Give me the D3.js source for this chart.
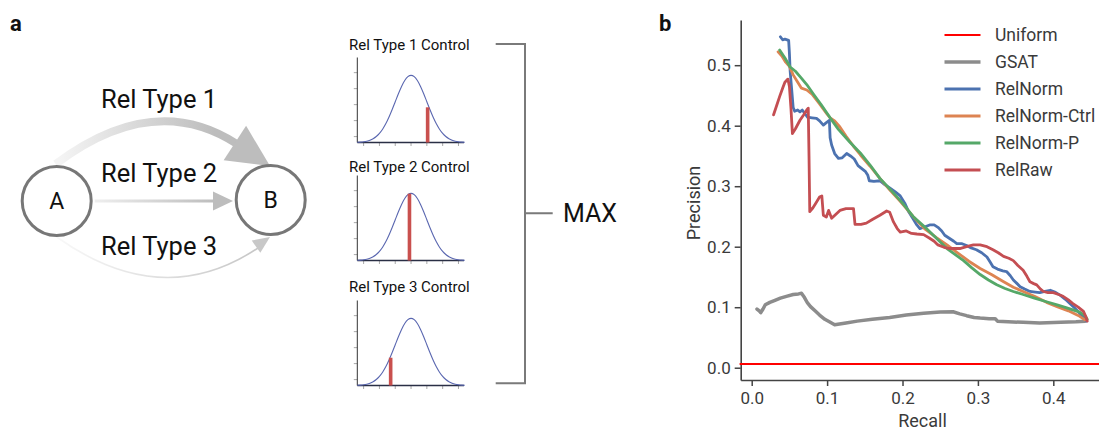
<!DOCTYPE html>
<html>
<head>
<meta charset="utf-8">
<script src="https://cdn.jsdelivr.net/npm/d3@7"></script>
<style>
  html, body { margin: 0; padding: 0; background: #fff; }
  svg { display: block; font-family: Roboto, "Noto Sans", sans-serif; }
</style>
</head>
<body>
<svg id="fig" width="1099" height="430"></svg>
<script>
// ---------- Panel a: relation diagram ----------
const nodes = [
  { id: "A", cx: 56.7, cy: 201 },
  { id: "B", cx: 270.7, cy: 200 }
];
const relLabels = ["Rel Type 1", "Rel Type 2", "Rel Type 3"];

// ---------- Panel a: control distributions ----------
const controlTitles = ["Rel Type 1 Control", "Rel Type 2 Control", "Rel Type 3 Control"];
const densityZ = [-3.4, -3.2, -3.0, -2.8, -2.6, -2.4, -2.2, -2.0, -1.8, -1.6, -1.4, -1.2, -1.0, -0.8, -0.6, -0.4, -0.2, 0,
                  0.2, 0.4, 0.6, 0.8, 1.0, 1.2, 1.4, 1.6, 1.8, 2.0, 2.2, 2.4, 2.6, 2.8, 3.0, 3.2, 3.4];
const densityY = [0.0012, 0.0024, 0.0044, 0.0079, 0.0136, 0.0224, 0.0355, 0.0540, 0.0790, 0.1109, 0.1497, 0.1942, 0.2420, 0.2897, 0.3332, 0.3683, 0.3910, 0.3989,
                  0.3910, 0.3683, 0.3332, 0.2897, 0.2420, 0.1942, 0.1497, 0.1109, 0.0790, 0.0540, 0.0355, 0.0224, 0.0136, 0.0079, 0.0044, 0.0024, 0.0012];
const observedZ = [1.05, -0.1, -1.29];
const observedH = [0.209, 0.397, 0.165];
const miniXTicks = [-3, -2, -1, 0, 1, 2, 3];
const miniYTicks = [0.035, 0.13, 0.225, 0.32, 0.415];

// ---------- Panel b: precision / recall ----------
const xTicks = [0, 0.1, 0.2, 0.3, 0.4];
const yTicks = [0, 0.1, 0.2, 0.3, 0.4, 0.5];
const seriesNames = ["Uniform", "GSAT", "RelNorm", "RelNorm-Ctrl", "RelNorm-P", "RelRaw"];
const seriesColors = ["#ff0000", "#8c8c8c", "#4c72b0", "#dd8452", "#55a868", "#c44e52"];
const seriesWidths = [2, 3.5, 2.8, 2.8, 2.8, 2.8];

const uniform = [[-0.015, 0.006], [0.461, 0.006]];
const gsat = [[0.007,0.097],[0.010,0.094],[0.012,0.091],[0.015,0.097],[0.018,0.104],[0.024,0.108],[0.030,0.111],[0.038,0.115],
  [0.046,0.118],[0.055,0.121],[0.062,0.122],[0.066,0.123],[0.070,0.116],[0.074,0.107],[0.078,0.101],[0.084,0.094],[0.090,0.087],
  [0.097,0.080],[0.103,0.076],[0.110,0.071],[0.125,0.074],[0.140,0.077],[0.160,0.080],[0.183,0.083],[0.205,0.087],[0.228,0.090],
  [0.250,0.092],[0.267,0.0925],[0.276,0.089],[0.285,0.086],[0.295,0.083],[0.303,0.082],[0.315,0.081],[0.323,0.081],[0.326,0.077],
  [0.340,0.076],[0.360,0.075],[0.382,0.074],[0.410,0.075],[0.430,0.076],[0.442,0.077]];
const relNorm = [[0.038,0.547],[0.041,0.542],[0.044,0.543],[0.049,0.541],[0.050,0.52],[0.051,0.49],[0.053,0.46],[0.055,0.43],
  [0.057,0.424],[0.061,0.426],[0.064,0.423],[0.067,0.426],[0.070,0.421],[0.074,0.414],[0.080,0.413],[0.086,0.412],[0.090,0.408],
  [0.095,0.401],[0.099,0.405],[0.103,0.409],[0.104,0.38],[0.106,0.368],[0.110,0.354],[0.115,0.346],[0.120,0.347],[0.126,0.354],
  [0.131,0.350],[0.136,0.345],[0.141,0.334],[0.146,0.329],[0.151,0.324],[0.154,0.318],[0.156,0.309],[0.162,0.308],[0.170,0.309],
  [0.176,0.303],[0.183,0.297],[0.190,0.291],[0.197,0.284],[0.203,0.272],[0.208,0.258],[0.214,0.246],[0.219,0.236],[0.223,0.230],
  [0.230,0.233],[0.236,0.236],[0.242,0.236],[0.247,0.232],[0.252,0.226],[0.256,0.219],[0.262,0.214],[0.268,0.209],[0.272,0.205],
  [0.279,0.205],[0.285,0.202],[0.291,0.198],[0.298,0.195],[0.305,0.190],[0.312,0.183],[0.316,0.175],[0.320,0.167],[0.326,0.163],
  [0.333,0.160],[0.338,0.159],[0.343,0.152],[0.347,0.145],[0.352,0.139],[0.356,0.134],[0.362,0.130],[0.369,0.126],[0.376,0.125],
  [0.382,0.124],[0.389,0.126],[0.396,0.128],[0.402,0.125],[0.409,0.120],[0.416,0.113],[0.422,0.106],[0.428,0.099],[0.435,0.090],
  [0.440,0.083],[0.444,0.077]];
const relNormCtrl = [[0.035,0.522],[0.040,0.515],[0.045,0.505],[0.050,0.498],[0.055,0.484],[0.060,0.474],[0.066,0.462],[0.073,0.459],
  [0.080,0.452],[0.090,0.436],[0.100,0.419],[0.104,0.413],[0.110,0.408],[0.117,0.398],[0.125,0.383],[0.135,0.366],[0.144,0.352],
  [0.157,0.333],[0.170,0.313],[0.183,0.294],[0.197,0.275],[0.214,0.250],[0.230,0.229],[0.245,0.215],[0.259,0.203],[0.273,0.190],
  [0.288,0.176],[0.303,0.164],[0.318,0.154],[0.333,0.143],[0.347,0.133],[0.360,0.126],[0.375,0.118],[0.391,0.108],[0.405,0.101],
  [0.420,0.094],[0.435,0.085],[0.442,0.079]];
const relNormP = [[0.037,0.525],[0.045,0.510],[0.051,0.497],[0.058,0.490],[0.065,0.480],[0.073,0.468],[0.082,0.452],[0.092,0.435],
  [0.104,0.413],[0.115,0.394],[0.130,0.373],[0.144,0.355],[0.157,0.335],[0.170,0.313],[0.185,0.293],[0.200,0.272],[0.214,0.250],
  [0.230,0.232],[0.245,0.214],[0.259,0.197],[0.270,0.187],[0.281,0.177],[0.292,0.165],[0.303,0.154],[0.314,0.145],[0.325,0.137],
  [0.336,0.131],[0.347,0.126],[0.360,0.121],[0.375,0.115],[0.391,0.109],[0.405,0.104],[0.420,0.098],[0.435,0.092],[0.442,0.086],
  [0.445,0.080]];
const relRaw = [[0.029,0.418],[0.033,0.433],[0.037,0.448],[0.041,0.462],[0.044,0.472],[0.048,0.477],[0.050,0.465],[0.052,0.43],
  [0.054,0.387],[0.058,0.395],[0.064,0.409],[0.069,0.418],[0.073,0.426],[0.075,0.429],[0.076,0.35],[0.077,0.258],[0.081,0.264],
  [0.085,0.272],[0.090,0.282],[0.093,0.284],[0.095,0.252],[0.099,0.249],[0.102,0.260],[0.106,0.247],[0.111,0.253],[0.117,0.260],
  [0.125,0.263],[0.135,0.263],[0.137,0.237],[0.145,0.237],[0.152,0.239],[0.160,0.245],[0.170,0.252],[0.179,0.259],[0.183,0.257],
  [0.188,0.241],[0.193,0.230],[0.197,0.224],[0.205,0.226],[0.212,0.222],[0.219,0.221],[0.228,0.220],[0.236,0.214],[0.242,0.209],
  [0.247,0.203],[0.255,0.199],[0.263,0.197],[0.270,0.197],[0.276,0.197],[0.285,0.200],[0.294,0.203],[0.303,0.203],[0.312,0.200],
  [0.320,0.195],[0.327,0.190],[0.334,0.184],[0.341,0.181],[0.347,0.177],[0.353,0.169],[0.360,0.161],[0.365,0.151],[0.369,0.142],
  [0.374,0.139],[0.378,0.137],[0.383,0.130],[0.387,0.126],[0.393,0.124],[0.400,0.124],[0.407,0.121],[0.413,0.118],[0.420,0.112],
  [0.426,0.106],[0.433,0.100],[0.440,0.093],[0.443,0.085],[0.445,0.077]];
const seriesData = [uniform, gsat, relNorm, relNormCtrl, relNormP, relRaw];

const svg = d3.select("#fig");
const defs = svg.append("defs");

// ===== panel letters =====
svg.append("text").attr("x", 10).attr("y", 31).attr("font-size", 22).attr("font-weight", "bold")
  .attr("fill", "#111").text("a");
svg.append("text").attr("x", 659).attr("y", 31).attr("font-size", 22).attr("font-weight", "bold")
  .attr("fill", "#111").text("b");

// ===== relation diagram =====
function gradient(id, x1, x2, c1, c2) {
  const g = defs.append("linearGradient").attr("id", id)
    .attr("gradientUnits", "userSpaceOnUse")
    .attr("x1", x1).attr("x2", x2).attr("y1", 0).attr("y2", 0);
  g.append("stop").attr("offset", 0).attr("stop-color", c1);
  g.append("stop").attr("offset", 1).attr("stop-color", c2);
}
gradient("g1", 60, 215, "#f4f4f4", "#bdbdbd");
gradient("g2", 95, 215, "#eeeeee", "#bdbdbd");
gradient("g3", 60, 250, "#f8f8f8", "#c8c8c8");

function arrowHead(tip, angle, len, half) {
  const bx = tip[0] - len * Math.cos(angle), by = tip[1] - len * Math.sin(angle);
  const nx = -Math.sin(angle) * half, ny = Math.cos(angle) * half;
  return [[tip[0], tip[1]], [bx + nx, by + ny], [bx - nx, by - ny]];
}
const diag = svg.append("g");
const A = nodes[0], B = nodes[1];

const edges = [
  { p0: [A.cx - 1, A.cy - 37], c: [154, 90], p2: [237, 144], tip: [270, 166], w: 8, len: 42, half: 20.5, grad: "g1", head: "#bdbdbd" },
  { p0: [A.cx + 38, A.cy], c: [150, A.cy], p2: [215, A.cy], tip: [233, A.cy], w: 3, len: 20, half: 9.5, grad: "g2", head: "#bdbdbd" },
  { p0: [A.cx, A.cy + 36], c: [162, 312], p2: [258, 248], tip: [270, 237], w: 1.6, len: 17, half: 7.5, grad: "g3", head: "#c8c8c8" }
];
edges.forEach(e => {
  const p = d3.path();
  p.moveTo(e.p0[0], e.p0[1]);
  p.quadraticCurveTo(e.c[0], e.c[1], e.p2[0], e.p2[1]);
  diag.append("path").attr("d", p.toString()).attr("fill", "none")
    .attr("stroke", `url(#${e.grad})`).attr("stroke-width", e.w);
  const ang = Math.atan2(e.tip[1] - e.c[1], e.tip[0] - e.c[0]);
  const pts = arrowHead(e.tip, ang, e.len, e.half);
  diag.append("path").attr("d", d3.line()(pts) + "Z").attr("fill", e.head);
});

nodes.forEach(n => {
  diag.append("circle").attr("cx", n.cx).attr("cy", n.cy).attr("r", 34.5)
    .attr("fill", "#fff").attr("stroke", "#777").attr("stroke-width", 3);
  diag.append("text").attr("x", n.cx).attr("y", n.cy + 8).attr("text-anchor", "middle")
    .attr("font-size", 23).attr("fill", "#111").text(n.id);
});
const relLabelY = [108, 182, 255];
relLabels.forEach((t, i) => {
  diag.append("text").attr("x", 159).attr("y", relLabelY[i]).attr("text-anchor", "middle")
    .attr("font-size", 25.5).attr("fill", "#111").text(t);
});

// ===== control distributions =====
const miniX = d3.scaleLinear().domain([-3.4, 3.35]).range([357.3, 464]);
const miniBase = [142.5, 260.5, 385.5];
const miniTitleY = [50, 171.5, 291.5];
const densityPts = densityZ.map((z, i) => [z, densityY[i]]);

controlTitles.forEach((title, k) => {
  const g = svg.append("g");
  const base = miniBase[k];
  const my = d3.scaleLinear().domain([0, 0.505]).range([base, base - 85]);
  g.append("text").attr("x", 349).attr("y", miniTitleY[k]).attr("font-size", 15)
    .attr("fill", "#111").text(title);

  // ticks
  g.selectAll(".yt").data(miniYTicks).join("line")
    .attr("x1", miniX.range()[0] - 3.5).attr("x2", miniX.range()[0])
    .attr("y1", d => my(d)).attr("y2", d => my(d))
    .attr("stroke", "#a8a8a8").attr("stroke-width", 1);
  g.selectAll(".xt").data(miniXTicks).join("line")
    .attr("x1", d => miniX(d)).attr("x2", d => miniX(d))
    .attr("y1", base).attr("y2", base + 3.5)
    .attr("stroke", "#a8a8a8").attr("stroke-width", 1);

  // axes
  g.append("line").attr("x1", miniX.range()[0]).attr("x2", miniX.range()[0])
    .attr("y1", base - 85).attr("y2", base).attr("stroke", "#333").attr("stroke-width", 1);
  g.append("line").attr("x1", miniX.range()[0]).attr("x2", miniX.range()[1])
    .attr("y1", base).attr("y2", base).attr("stroke", "#2a2f45").attr("stroke-width", 1.4);

  // density curve
  g.append("path").datum(densityPts)
    .attr("d", d3.line().x(d => miniX(d[0])).y(d => my(d[1])).curve(d3.curveMonotoneX))
    .attr("fill", "none").attr("stroke", "#5a67b0").attr("stroke-width", 1.1);

  // observed score
  const bw = 3.6;
  g.append("rect").attr("x", miniX(observedZ[k]) - bw / 2).attr("width", bw)
    .attr("y", my(observedH[k])).attr("height", my(0) - my(observedH[k]))
    .attr("fill", "#c9504e");
});

// bracket
const br = d3.path();
br.moveTo(495.7, 44); br.lineTo(525, 44); br.lineTo(525, 383.3); br.lineTo(495.7, 383.3);
br.moveTo(525, 213.3); br.lineTo(552.7, 213.3);
svg.append("path").attr("d", br.toString()).attr("fill", "none")
  .attr("stroke", "#7a7a7a").attr("stroke-width", 2);
svg.append("text").attr("x", 563).attr("y", 222).attr("font-size", 25).attr("fill", "#111").text("MAX");

// ===== precision-recall plot =====
const x = d3.scaleLinear().domain([-0.0146, 0.4606]).range([740.7, 1099]);
const y = d3.scaleLinear().domain([-0.0203, 0.5747]).range([380, 20]);
const axColor = "#444";

const gx = svg.append("g").attr("transform", "translate(0,380)")
  .call(d3.axisBottom(x).tickValues(xTicks).tickFormat(d3.format(".1f")).tickSize(6).tickSizeOuter(0).tickPadding(6));
const gy = svg.append("g").attr("transform", "translate(740.7,0)")
  .call(d3.axisLeft(y).tickValues(yTicks).tickFormat(d3.format(".1f")).tickSize(6).tickSizeOuter(0).tickPadding(4));
[gx, gy].forEach(g => {
  g.select(".domain").attr("stroke", axColor).attr("stroke-width", 1.6);
  g.selectAll(".tick line").attr("stroke", axColor).attr("stroke-width", 1.5);
  g.selectAll(".tick text").attr("fill", "#3a3a3a").attr("font-size", 17)
    .attr("font-family", "Roboto, sans-serif");
});

const plot = svg.append("g");
const line = d3.line().x(d => x(d[0])).y(d => y(d[1]));
// draw grey baseline first, then methods, uniform reference on top
const drawOrder = [1, 2, 3, 4, 5, 0];
drawOrder.forEach(i => {
  plot.append("path").datum(seriesData[i]).attr("d", line)
    .attr("fill", "none").attr("stroke", seriesColors[i])
    .attr("stroke-width", seriesWidths[i]).attr("stroke-linejoin", "round").attr("stroke-linecap", "round");
});

// axis titles
svg.append("text").attr("x", 922.5).attr("y", 427).attr("text-anchor", "middle")
  .attr("font-size", 18).attr("fill", "#3a3a3a").text("Recall");
svg.append("text").attr("transform", "translate(700,203) rotate(-90)").attr("text-anchor", "middle")
  .attr("font-size", 18).attr("fill", "#3a3a3a").text("Precision");

// legend
const legend = svg.append("g");
seriesNames.forEach((name, i) => {
  const ly = 35 + i * 27;
  legend.append("line").attr("x1", 944.5).attr("x2", 980.5).attr("y1", ly).attr("y2", ly)
    .attr("stroke", seriesColors[i]).attr("stroke-width", seriesWidths[i]);
  legend.append("text").attr("x", 995).attr("y", ly + 6).attr("font-size", 17.5)
    .attr("fill", "#3a3a3a").text(name);
});
</script>
</body>
</html>
